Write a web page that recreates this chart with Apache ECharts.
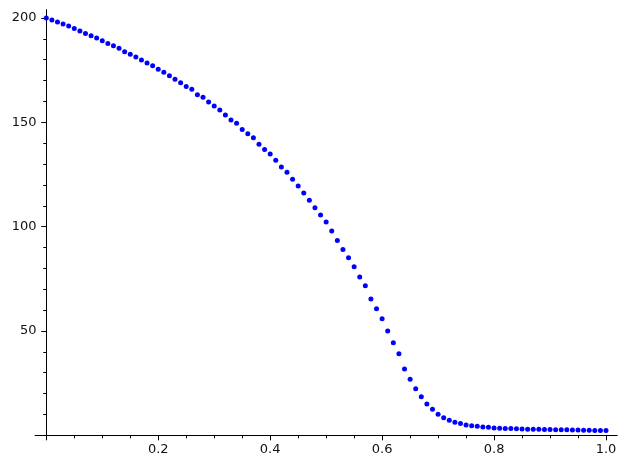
<!DOCTYPE html>
<html>
<head>
<meta charset="utf-8">
<script src="https://cdn.jsdelivr.net/npm/echarts@6/dist/echarts.min.js"></script>
<style>html,body{margin:0;padding:0;background:#fff}#c{width:626px;height:469px}</style>
</head>
<body>
<div id="c"></div>
<script>
const xValues = [0.00,0.01,0.02,0.03,0.04,0.05,0.06,0.07,0.08,0.09,
  0.10,0.11,0.12,0.13,0.14,0.15,0.16,0.17,0.18,0.19,
  0.20,0.21,0.22,0.23,0.24,0.25,0.26,0.27,0.28,0.29,
  0.30,0.31,0.32,0.33,0.34,0.35,0.36,0.37,0.38,0.39,
  0.40,0.41,0.42,0.43,0.44,0.45,0.46,0.47,0.48,0.49,
  0.50,0.51,0.52,0.53,0.54,0.55,0.56,0.57,0.58,0.59,
  0.60,0.61,0.62,0.63,0.64,0.65,0.66,0.67,0.68,0.69,
  0.70,0.71,0.72,0.73,0.74,0.75,0.76,0.77,0.78,0.79,
  0.80,0.81,0.82,0.83,0.84,0.85,0.86,0.87,0.88,0.89,
  0.90,0.91,0.92,0.93,0.94,0.95,0.96,0.97,0.98,0.99,1.00];
const yValues = [200.0,199.0,198.0,197.1,196.1,194.9,193.8,192.6,191.5,190.4,
  189.1,187.8,186.7,185.5,183.8,182.6,181.3,179.9,178.4,177.1,
  175.4,174.0,172.3,170.6,169.0,167.1,165.8,163.2,162.0,159.7,
  157.8,155.9,153.5,151.1,149.5,146.5,144.5,142.6,139.5,136.9,
  134.8,131.8,128.6,126.0,122.7,119.5,116.1,112.6,109.1,105.6,
  102.2,97.9,93.4,89.0,85.1,80.8,75.9,71.7,65.3,60.6,
  55.9,50.0,44.4,39.1,31.8,26.9,22.3,18.5,15.0,12.5,
  10.1,8.4,7.2,6.2,5.6,4.9,4.6,4.3,4.0,3.8,
  3.5,3.4,3.3,3.2,3.1,3.0,2.95,2.9,2.85,2.8,
  2.75,2.7,2.65,2.6,2.55,2.5,2.45,2.4,2.35,2.3,2.25];
const xMajorTicks = [0, 0.2, 0.4, 0.6, 0.8, 1.0];
const xTickLabels = [0.2, 0.4, 0.6, 0.8, 1.0];
const xMinorTicks = [0.05,0.1,0.15,0.25,0.3,0.35,0.45,0.5,0.55,0.65,0.7,0.75,0.85,0.9,0.95];
const yMajorTicks = [50, 100, 150, 200];
const yTickLabels = [50, 100, 150, 200];
const yMinorTicks = [10,20,30,40,60,70,80,90,110,120,130,140,160,170,180,190];

const data = xValues.map((x, i) => [x, yValues[i]]);
const txt = {color: '#111', fontFamily: 'DejaVu Sans', fontSize: 13};
const lineStyle = {color: '#000', width: 1};

const chart = echarts.init(document.getElementById('c'), null, {renderer: 'canvas'});
chart.setOption({
  animation: false,
  backgroundColor: '#fff',
  grid: {left: 35.1, right: 8.8, top: 9.6, bottom: 33.7, outerBoundsMode: 'none'},
  xAxis: [
    {type: 'value', min: -0.02, max: 1.02, position: 'bottom',
     axisLine: {show: true, onZero: true, onZeroAxisIndex: 0, lineStyle},
     axisTick: {show: true, length: 5, customValues: xMajorTicks, lineStyle},
     axisLabel: {show: true, customValues: xTickLabels, margin: 8, ...txt,
       formatter: v => Number(v).toFixed(1)},
     splitLine: {show: false}},
    {type: 'value', min: -0.02, max: 1.02, position: 'bottom',
     axisLine: {show: false, onZero: true, onZeroAxisIndex: 0},
     axisTick: {show: true, length: 3, customValues: xMinorTicks, lineStyle},
     axisLabel: {show: false},
     splitLine: {show: false}}
  ],
  yAxis: [
    {type: 'value', min: 0, max: 204, position: 'left',
     axisLine: {show: true, onZero: true, onZeroAxisIndex: 0, lineStyle},
     axisTick: {show: true, length: 5, customValues: yMajorTicks, lineStyle},
     axisLabel: {show: true, customValues: yTickLabels, margin: -1.5, ...txt},
     splitLine: {show: false}},
    {type: 'value', min: 0, max: 204, position: 'left',
     axisLine: {show: false, onZero: true, onZeroAxisIndex: 0},
     axisTick: {show: true, length: 3, customValues: yMinorTicks, lineStyle},
     axisLabel: {show: false},
     splitLine: {show: false}}
  ],
  series: [{
    type: 'scatter', xAxisIndex: 0, yAxisIndex: 0,
    data: data, symbol: 'circle', symbolSize: 5,
    itemStyle: {color: '#0000ff', opacity: 1},
    emphasis: {disabled: true}
  }]
});
</script>
</body>
</html>
